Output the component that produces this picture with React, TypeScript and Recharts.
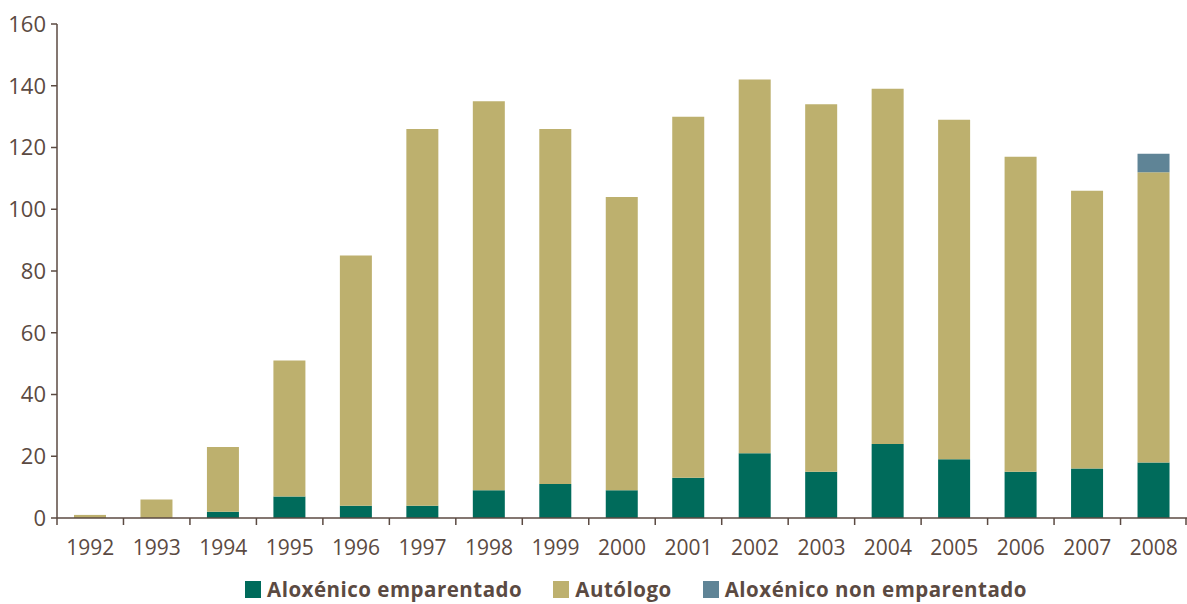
import React from 'react';
import { BarChart, Bar, XAxis, YAxis } from 'recharts';

const years = ['1992', '1993', '1994', '1995', '1996', '1997', '1998', '1999', '2000', '2001', '2002', '2003', '2004', '2005', '2006', '2007', '2008'];
const aloxenicoEmparentado = [0, 0, 2, 7, 4, 4, 9, 11, 9, 13, 21, 15, 24, 19, 15, 16, 18];
const autologo = [1, 6, 21, 44, 81, 122, 126, 115, 95, 117, 121, 119, 115, 110, 102, 90, 94];
const aloxenicoNonEmparentado = [0, 0, 0, 0, 0, 0, 0, 0, 0, 0, 0, 0, 0, 0, 0, 0, 6];
const yTicks = [0, 20, 40, 60, 80, 100, 120, 140, 160];

const series = [
  { key: 'emparentado', label: 'Aloxénico emparentado', color: '#006b5b' },
  { key: 'autologo', label: 'Autólogo', color: '#bdb06e' },
  { key: 'nonEmparentado', label: 'Aloxénico non emparentado', color: '#5f8496' },
];

const data = years.map((y, i) => ({
  year: y,
  emparentado: aloxenicoEmparentado[i],
  autologo: autologo[i],
  nonEmparentado: aloxenicoNonEmparentado[i],
}));

const TEXT = '#5b4a42';
const FONT = '"Open Sans", Lato, sans-serif';
const BAND = 1130 / years.length;

function YearTick(props: any) {
  const { x, y, payload, index } = props;
  const half = BAND / 2;
  return (
    <g>
      <line x1={x - half} x2={x - half} y1={y - 8} y2={y - 1} stroke={TEXT} strokeWidth={1.5} />
      {index === years.length - 1 && (
        <line x1={x + half - 1} x2={x + half - 1} y1={y - 8} y2={y - 1} stroke={TEXT} strokeWidth={1.5} />
      )}
      <text x={x} y={y + 29} textAnchor="middle" fill={TEXT} fontSize={21} fontFamily={FONT}>
        {payload.value}
      </text>
    </g>
  );
}

export default function App() {
  return (
    <div style={{ position: 'absolute', left: 0, top: 0, width: 1187, height: 604, background: '#fff', overflow: 'hidden' }}>
      <BarChart
        width={1187}
        height={560}
        data={data}
        margin={{ top: 24, right: 0, bottom: 0, left: 0 }}
        barSize={32}
      >
        <XAxis
          dataKey="year"
          stroke={TEXT}
          strokeWidth={1.5}
          tickLine={false}
          tick={<YearTick />}
          height={42}
          interval={0}
        />
        <YAxis
          domain={[0, 160]}
          ticks={yTicks}
          width={57}
          stroke={TEXT}
          strokeWidth={1.5}
          tickSize={6}
          tickMargin={5}
          tick={{ fill: TEXT, fontSize: 22, fontFamily: FONT }}
          interval={0}
        />
        {series.map((s) => (
          <Bar key={s.key} dataKey={s.key} stackId="a" fill={s.color} isAnimationActive={false} />
        ))}
      </BarChart>
      <div
        style={{
          position: 'absolute',
          top: 578,
          left: 245,
          height: 22,
          lineHeight: '22px',
          display: 'flex',
          alignItems: 'center',
          fontFamily: FONT,
          fontWeight: 700,
          fontSize: 20.5,
          letterSpacing: 0.5,
          color: TEXT,
          whiteSpace: 'nowrap',
        }}
      >
        {series.map((s, i) => (
          <div key={s.key} style={{ display: 'flex', alignItems: 'center', marginRight: i < 2 ? 31 : 0 }}>
            <span style={{ display: 'inline-block', width: 16, height: 17, background: s.color, marginRight: 6 }} />
            <span>{s.label}</span>
          </div>
        ))}
      </div>
    </div>
  );
}
